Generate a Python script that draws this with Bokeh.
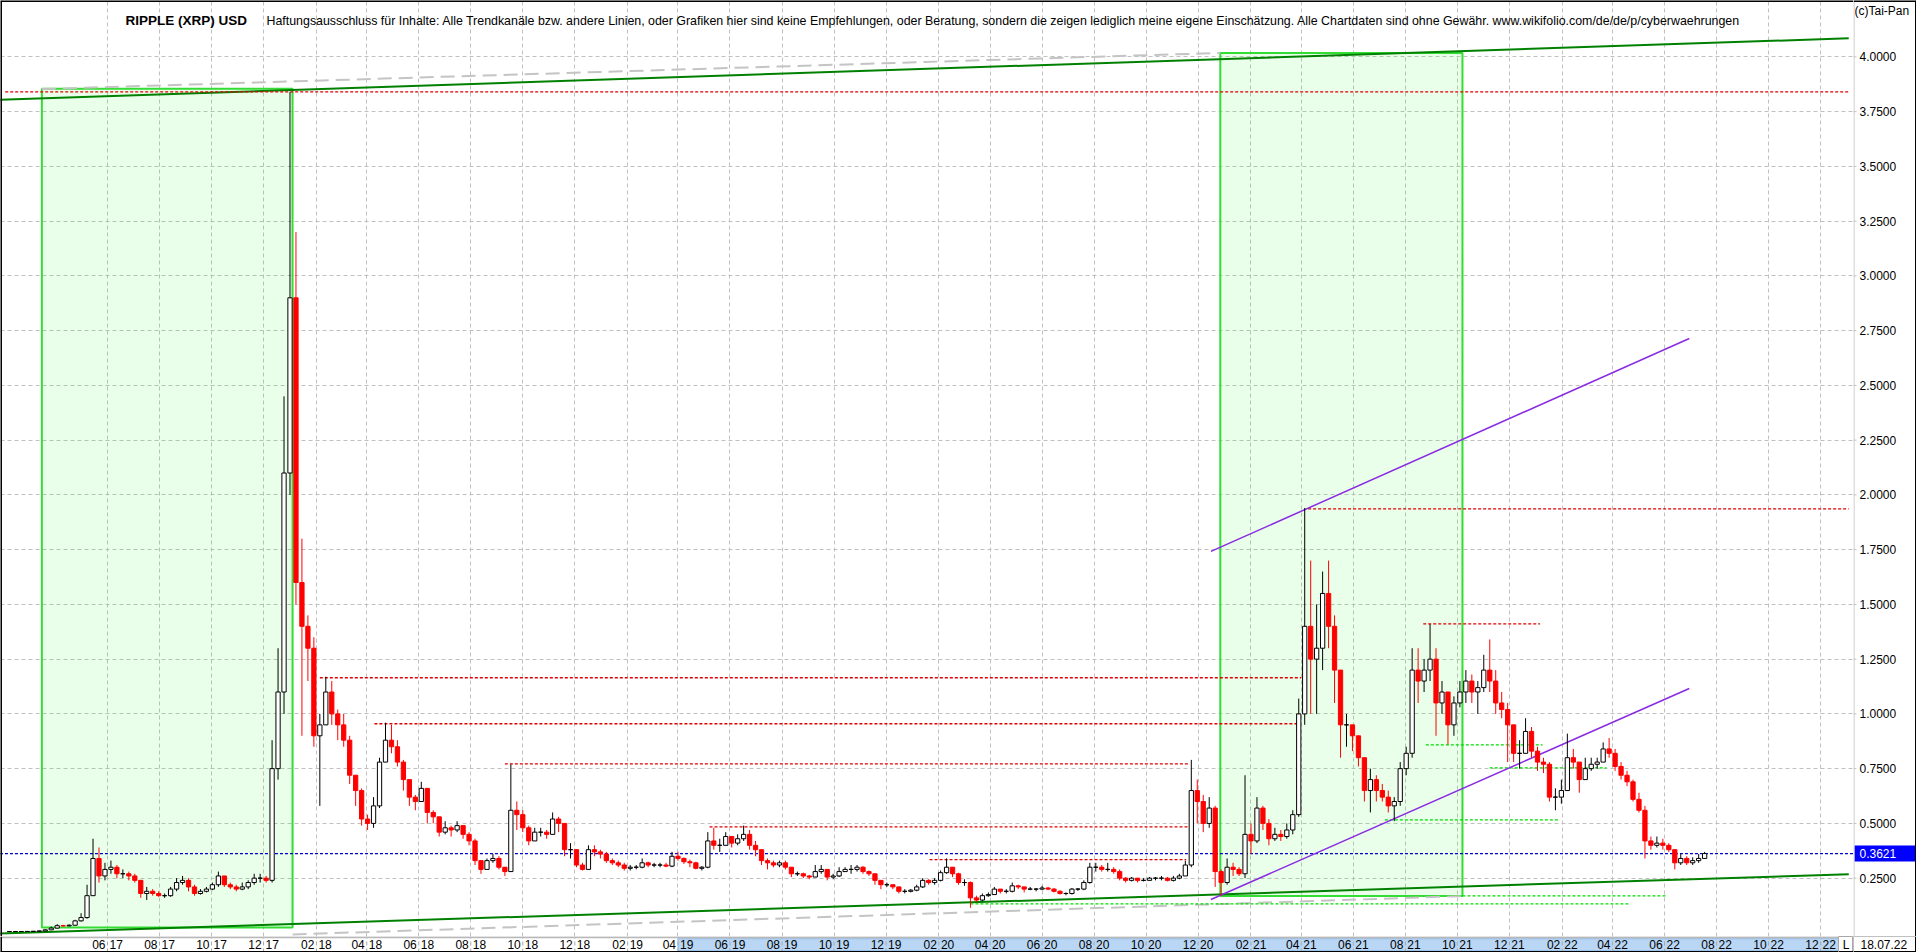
import pandas as pd
from datetime import timedelta
from bokeh.plotting import figure
from bokeh.models import ColumnDataSource, Range1d, FixedTicker, Label, Span, Grid
from bokeh.layouts import column, row
from bokeh.embed import file_html
from bokeh.resources import INLINE
from bokeh.core.properties import value

FONT = "Liberation Sans"

# ---------------- data (weekly candles) ----------------
WEEK_START = "2017-02-06"
FIRST_OPEN = 0.0062

close_2017 = [0.0063, 0.0064, 0.0065, 0.0068, 0.0075, 0.0090, 0.0140, 0.0220, 0.0330, 0.0320, 0.0350, 0.0550,
              0.0700, 0.1700, 0.3400, 0.2600, 0.2900, 0.3000, 0.2700, 0.2700, 0.2600, 0.2400, 0.1800, 0.1900,
              0.1800, 0.1700, 0.1700, 0.2000, 0.2300, 0.2400, 0.2100, 0.1800, 0.1900, 0.2000, 0.2200, 0.2600,
              0.2200, 0.2100, 0.2000, 0.2100, 0.2300, 0.2500, 0.2500, 0.2400, 0.7500, 1.1000, 2.1000]
high_2017 = [0.0066, 0.0067, 0.0068, 0.0072, 0.0080, 0.0100, 0.0160, 0.0290, 0.0400, 0.0370, 0.0390, 0.0600,
             0.0900, 0.2200, 0.4300, 0.3900, 0.3200, 0.3300, 0.3100, 0.2900, 0.2800, 0.2700, 0.2400, 0.2100,
             0.2000, 0.1900, 0.1800, 0.2100, 0.2500, 0.2600, 0.2500, 0.2200, 0.2000, 0.2100, 0.2300, 0.2800,
             0.2600, 0.2300, 0.2200, 0.2300, 0.2400, 0.2700, 0.2700, 0.2600, 0.8800, 1.3000, 2.4500]
low_2017 = [0.0060, 0.0061, 0.0062, 0.0063, 0.0067, 0.0074, 0.0088, 0.0135, 0.0210, 0.0290, 0.0300, 0.0340,
            0.0520, 0.0650, 0.1700, 0.2300, 0.2400, 0.2700, 0.2500, 0.2500, 0.2400, 0.2300, 0.1600, 0.1500,
            0.1700, 0.1650, 0.1600, 0.1650, 0.1900, 0.2200, 0.1900, 0.1700, 0.1750, 0.1850, 0.1950, 0.2100,
            0.2100, 0.2000, 0.1900, 0.1950, 0.2000, 0.2200, 0.2300, 0.2300, 0.2300, 0.7000, 1.0000]

close_2018 = [2.90, 1.60, 1.40, 1.30, 0.90, 0.95, 1.10, 1.00, 0.95, 0.88, 0.72, 0.65, 0.52, 0.50, 0.58, 0.78,
              0.88, 0.85, 0.78, 0.70, 0.62, 0.60, 0.66, 0.55, 0.53, 0.46, 0.48, 0.47, 0.49, 0.45, 0.42, 0.33,
              0.29, 0.33, 0.34, 0.30, 0.28, 0.56, 0.54, 0.48, 0.42, 0.46, 0.46, 0.45, 0.52, 0.50, 0.38, 0.38,
              0.31, 0.29, 0.38, 0.37, 0.36]
high_2018 = [3.84, 3.20, 1.80, 1.45, 1.35, 1.00, 1.17, 1.15, 1.02, 1.00, 0.90, 0.72, 0.66, 0.54, 0.62, 0.80,
             0.96, 0.95, 0.88, 0.79, 0.70, 0.63, 0.69, 0.66, 0.56, 0.53, 0.51, 0.49, 0.51, 0.49, 0.46, 0.43,
             0.33, 0.34, 0.36, 0.35, 0.30, 0.77, 0.60, 0.56, 0.49, 0.48, 0.48, 0.47, 0.55, 0.53, 0.50, 0.41,
             0.38, 0.32, 0.40, 0.40, 0.38]
low_2018 = [2.00, 1.50, 0.90, 1.15, 0.85, 0.58, 0.95, 0.95, 0.88, 0.85, 0.68, 0.58, 0.49, 0.47, 0.48, 0.57,
            0.78, 0.82, 0.76, 0.65, 0.58, 0.56, 0.60, 0.50, 0.50, 0.44, 0.45, 0.44, 0.46, 0.43, 0.40, 0.31,
            0.27, 0.29, 0.32, 0.29, 0.26, 0.28, 0.47, 0.46, 0.40, 0.42, 0.44, 0.43, 0.45, 0.46, 0.35, 0.34,
            0.30, 0.285, 0.29, 0.35, 0.34]

close_2019 = [0.330, 0.320, 0.310, 0.295, 0.300, 0.300, 0.320, 0.310, 0.310, 0.310, 0.305, 0.350, 0.340,
              0.325, 0.320, 0.295, 0.300, 0.420, 0.400, 0.400, 0.440, 0.410, 0.430, 0.450, 0.400, 0.380,
              0.330, 0.320, 0.310, 0.320, 0.300, 0.270, 0.270, 0.260, 0.255, 0.280, 0.290, 0.255, 0.260,
              0.280, 0.290, 0.290, 0.300, 0.280, 0.270, 0.240, 0.220, 0.220, 0.210, 0.190, 0.190, 0.195]
high_2019 = [0.370, 0.340, 0.330, 0.320, 0.310, 0.310, 0.340, 0.325, 0.320, 0.320, 0.320, 0.370, 0.370,
             0.345, 0.335, 0.325, 0.305, 0.460, 0.480, 0.430, 0.460, 0.440, 0.450, 0.490, 0.470, 0.420,
             0.380, 0.340, 0.330, 0.330, 0.330, 0.300, 0.280, 0.275, 0.265, 0.310, 0.310, 0.290, 0.270,
             0.300, 0.300, 0.310, 0.310, 0.305, 0.285, 0.270, 0.240, 0.230, 0.220, 0.210, 0.200, 0.200]
low_2019 = [0.320, 0.310, 0.300, 0.285, 0.285, 0.290, 0.295, 0.300, 0.300, 0.300, 0.300, 0.300, 0.330,
            0.315, 0.300, 0.290, 0.285, 0.295, 0.380, 0.370, 0.400, 0.390, 0.400, 0.420, 0.380, 0.350,
            0.310, 0.290, 0.300, 0.300, 0.290, 0.255, 0.260, 0.250, 0.245, 0.255, 0.270, 0.240, 0.245,
            0.255, 0.280, 0.270, 0.280, 0.270, 0.260, 0.220, 0.200, 0.210, 0.200, 0.180, 0.180, 0.185]

close_2020 = [0.210, 0.240, 0.230, 0.240, 0.275, 0.300, 0.270, 0.230, 0.230, 0.160, 0.150, 0.170, 0.175,
              0.200, 0.190, 0.190, 0.215, 0.210, 0.200, 0.200, 0.200, 0.205, 0.200, 0.190, 0.180, 0.180,
              0.200, 0.200, 0.230, 0.300, 0.300, 0.290, 0.290, 0.280, 0.250, 0.240, 0.250, 0.240, 0.240,
              0.250, 0.250, 0.250, 0.240, 0.250, 0.260, 0.310, 0.650, 0.600, 0.500, 0.570, 0.280, 0.230]
high_2020 = [0.220, 0.250, 0.245, 0.250, 0.285, 0.340, 0.300, 0.275, 0.245, 0.235, 0.170, 0.180, 0.185,
             0.210, 0.200, 0.200, 0.230, 0.220, 0.210, 0.210, 0.205, 0.215, 0.210, 0.205, 0.195, 0.185,
             0.205, 0.205, 0.240, 0.320, 0.320, 0.310, 0.320, 0.300, 0.290, 0.255, 0.255, 0.250, 0.250,
             0.255, 0.255, 0.260, 0.255, 0.260, 0.270, 0.330, 0.790, 0.700, 0.630, 0.620, 0.580, 0.290]
low_2020 = [0.190, 0.205, 0.220, 0.220, 0.235, 0.270, 0.255, 0.220, 0.215, 0.115, 0.140, 0.145, 0.165,
            0.175, 0.180, 0.180, 0.185, 0.200, 0.185, 0.195, 0.190, 0.195, 0.195, 0.185, 0.175, 0.172,
            0.175, 0.192, 0.195, 0.225, 0.280, 0.280, 0.280, 0.270, 0.240, 0.230, 0.235, 0.230, 0.235,
            0.240, 0.240, 0.240, 0.235, 0.235, 0.245, 0.260, 0.300, 0.500, 0.460, 0.480, 0.210, 0.170]

close_2021 = [0.300, 0.290, 0.270, 0.450, 0.420, 0.570, 0.500, 0.430, 0.450, 0.440, 0.470, 0.540, 1.000,
              1.400, 1.250, 1.300, 1.550, 1.400, 1.200, 0.950, 0.950, 0.900, 0.800, 0.650, 0.700, 0.650,
              0.620, 0.580, 0.600, 0.750, 0.820, 1.200, 1.150, 1.200, 1.250, 1.050, 1.100, 0.950, 1.050,
              1.100, 1.150, 1.100, 1.120, 1.200, 1.150, 1.050, 1.020, 0.950, 0.820, 0.820, 0.920, 0.830]
high_2021 = [0.340, 0.320, 0.300, 0.720, 0.500, 0.620, 0.580, 0.520, 0.480, 0.470, 0.500, 0.560, 1.070,
             1.940, 1.700, 1.500, 1.650, 1.700, 1.450, 1.200, 1.000, 0.950, 0.880, 0.800, 0.750, 0.720,
             0.680, 0.650, 0.620, 0.780, 0.850, 1.300, 1.300, 1.250, 1.410, 1.300, 1.150, 1.100, 1.080,
             1.150, 1.200, 1.180, 1.150, 1.270, 1.340, 1.200, 1.100, 1.050, 0.950, 0.880, 0.980, 0.940]
low_2021 = [0.220, 0.260, 0.260, 0.250, 0.360, 0.410, 0.470, 0.400, 0.420, 0.420, 0.430, 0.450, 0.530,
            0.950, 1.000, 1.000, 1.200, 1.300, 1.050, 0.800, 0.850, 0.830, 0.760, 0.600, 0.550, 0.600,
            0.600, 0.550, 0.510, 0.580, 0.720, 0.800, 1.050, 1.100, 1.150, 0.900, 1.000, 0.860, 0.900,
            1.030, 1.050, 1.050, 1.000, 1.100, 1.100, 1.000, 0.980, 0.780, 0.780, 0.750, 0.820, 0.800]

close_2022 = [0.780, 0.770, 0.620, 0.620, 0.650, 0.800, 0.780, 0.700, 0.750, 0.770, 0.780, 0.840, 0.820,
              0.760, 0.720, 0.690, 0.610, 0.560, 0.420, 0.400, 0.410, 0.400, 0.380, 0.320, 0.340, 0.320,
              0.330, 0.340, 0.3621]
high_2022 = [0.850, 0.800, 0.780, 0.660, 0.700, 0.910, 0.840, 0.780, 0.800, 0.800, 0.800, 0.870, 0.890,
             0.840, 0.780, 0.740, 0.700, 0.640, 0.580, 0.440, 0.440, 0.430, 0.410, 0.380, 0.360, 0.350,
             0.345, 0.360, 0.370]
low_2022 = [0.740, 0.730, 0.600, 0.560, 0.590, 0.650, 0.750, 0.640, 0.700, 0.740, 0.750, 0.780, 0.800,
            0.740, 0.700, 0.670, 0.600, 0.550, 0.340, 0.380, 0.390, 0.380, 0.370, 0.290, 0.310, 0.310,
            0.310, 0.320, 0.340]

LAST_PRICE = 0.3621

# y axis ticks and x axis (2-monthly) ticks
Y_TICKS = [0.25, 0.5, 0.75, 1.0, 1.25, 1.5, 1.75, 2.0, 2.25, 2.5, 2.75, 3.0, 3.25, 3.5, 3.75, 4.0]
TICK_DATES = ["2017-06-01", "2017-08-01", "2017-10-01", "2017-12-01",
              "2018-02-01", "2018-04-01", "2018-06-01", "2018-08-01", "2018-10-01", "2018-12-01",
              "2019-02-01", "2019-04-01", "2019-06-01", "2019-08-01", "2019-10-01", "2019-12-01",
              "2020-02-01", "2020-04-01", "2020-06-01", "2020-08-01", "2020-10-01", "2020-12-01",
              "2021-02-01", "2021-04-01", "2021-06-01", "2021-08-01", "2021-10-01", "2021-12-01",
              "2022-02-01", "2022-04-01", "2022-06-01", "2022-08-01", "2022-10-01", "2022-12-01"]
HIGHLIGHT_RANGE = ["2019-04-01", "2023-01-31"]

# drawing objects (dates / price levels)
RECT_LEFT = ["2017-03-16", "2020-12-27"]
RECT_RIGHT = ["2018-01-04", "2021-10-07"]
RECT_BOTTOM = [0.025, 0.168]
RECT_TOP = [3.855, 4.018]

TREND_X0 = ["2017-01-20", "2017-01-20"]
TREND_Y0 = [3.804, -0.003]
TREND_X1 = ["2023-01-03", "2023-01-03"]
TREND_Y1 = [4.085, 0.268]

GREY_X0 = ["2017-03-16", "2018-01-04"]
GREY_Y0 = [3.853, -0.007]
GREY_X1 = ["2020-12-27", "2021-10-07"]
GREY_Y1 = [4.018, 0.168]

RED_LEVEL = [3.84, 1.936, 1.165, 0.955, 0.772, 0.484, 0.335, 1.411]
RED_START = ["2017-02-01", "2021-04-09", "2018-02-05", "2018-04-10", "2018-09-10", "2019-05-08",
             "2020-01-21", "2021-08-22"]
RED_END = ["2023-01-03", "2023-01-03", "2021-04-01", "2021-03-28", "2020-11-19", "2020-11-19",
           "2020-11-17", "2022-01-06"]

GRN_LEVEL = [0.859, 0.754, 0.516, 0.169, 0.133]
GRN_START = ["2021-08-25", "2021-11-08", "2021-07-08", "2021-10-07", "2020-03-09"]
GRN_END = ["2022-01-09", "2022-03-25", "2022-01-28", "2022-06-04", "2022-04-22"]

BLUE_START = "2017-01-20"
BLUE_END = "2023-01-20"

PURPLE_X0 = ["2020-12-16", "2020-12-16"]
PURPLE_Y0 = [0.1525, 1.742]
PURPLE_X1 = ["2022-06-30", "2022-06-30"]
PURPLE_Y1 = [1.116, 2.714]

TITLE = "RIPPLE (XRP) USD"
DISCLAIMER = ("Haftungsausschluss für Inhalte: Alle Trendkanäle bzw. andere Linien, oder Grafiken hier sind "
              "keine Empfehlungen, oder Beratung, sondern die zeigen lediglich meine eigene Einschätzung. "
              "Alle Chartdaten sind ohne Gewähr.  www.wikifolio.com/de/de/p/cyberwaehrungen")
COPYRIGHT = "(c)Tai-Pan"

# ---------------- build candles ----------------
closes = close_2017 + close_2018 + close_2019 + close_2020 + close_2021 + close_2022
highs = high_2017 + high_2018 + high_2019 + high_2020 + high_2021 + high_2022
lows = low_2017 + low_2018 + low_2019 + low_2020 + low_2021 + low_2022
opens = [FIRST_OPEN] + closes[:-1]
dates = pd.date_range(WEEK_START, periods=len(closes), freq="7D")

up = dict(x=[], top=[], bottom=[], high=[], low=[])
dn = dict(x=[], top=[], bottom=[], high=[], low=[])
for d, o, h, l, c in zip(dates, opens, highs, lows, closes):
    tgt = up if c >= o else dn
    tgt["x"].append(d)
    tgt["top"].append(max(o, c))
    tgt["bottom"].append(min(o, c))
    tgt["high"].append(max(h, o, c))
    tgt["low"].append(min(l, o, c))
up_src = ColumnDataSource(up)
dn_src = ColumnDataSource(dn)

# ---------------- layout sizes ----------------
MAIN_W, MAIN_H = 1853, 936
AXIS_W = 63
STRIP_H = 16
L_W = 15
X0 = pd.Timestamp("2017-01-26 12:00")
X1 = pd.Timestamp("2023-01-08 14:00")
yr = Range1d(-0.0164, 4.2575)

p = figure(width=MAIN_W, height=MAIN_H, x_axis_type="datetime", x_axis_location=None,
           y_axis_location=None, x_range=Range1d(X0, X1), y_range=yr,
           output_backend="svg", toolbar_location=None, min_border=0,
           min_border_left=0, min_border_top=0, min_border_bottom=0, min_border_right=0)
p.outline_line_color = None
p.background_fill_color = "white"
p.border_fill_color = "white"
p.grid.visible = False

tick_ms = [pd.Timestamp(t).value // 10**6 for t in TICK_DATES]
p.add_layout(Grid(dimension=0, ticker=FixedTicker(ticks=tick_ms), grid_line_color="#c0c0c0",
                  grid_line_dash="4 3", grid_line_width=1))
p.add_layout(Grid(dimension=1, ticker=FixedTicker(ticks=Y_TICKS), grid_line_color="#c0c0c0",
                  grid_line_dash="4 3", grid_line_width=1))

# rectangles
p.quad(left=pd.to_datetime(RECT_LEFT), right=pd.to_datetime(RECT_RIGHT), bottom=RECT_BOTTOM, top=RECT_TOP,
       fill_color="#33ff33", fill_alpha=0.1, line_color="#33dd33", line_width=2)
# grey dashed channel
p.segment(x0=pd.to_datetime(GREY_X0), y0=GREY_Y0, x1=pd.to_datetime(GREY_X1), y1=GREY_Y1,
          line_color="#c4c4c4", line_width=2, line_dash="14 7")
# green trend lines
p.segment(x0=pd.to_datetime(TREND_X0), y0=TREND_Y0, x1=pd.to_datetime(TREND_X1), y1=TREND_Y1,
          line_color="#008000", line_width=2)
# horizontal dotted levels
p.segment(x0=pd.to_datetime(RED_START), y0=RED_LEVEL, x1=pd.to_datetime(RED_END), y1=RED_LEVEL,
          line_color="#e00000", line_width=1.3, line_dash="3 2")
p.segment(x0=pd.to_datetime(GRN_START), y0=GRN_LEVEL, x1=pd.to_datetime(GRN_END), y1=GRN_LEVEL,
          line_color="#00dd00", line_width=1.3, line_dash="3 2")
p.segment(x0=[pd.Timestamp(BLUE_START)], y0=[LAST_PRICE], x1=[pd.Timestamp(BLUE_END)], y1=[LAST_PRICE],
          line_color="#0000cc", line_width=1.3, line_dash="3 2")
# purple channel
p.segment(x0=pd.to_datetime(PURPLE_X0), y0=PURPLE_Y0, x1=pd.to_datetime(PURPLE_X1), y1=PURPLE_Y1,
          line_color="#8a2be2", line_width=1.5)

# candles
CW = 5 * 24 * 3600 * 1000
p.segment(x0="x", y0="low", x1="x", y1="high", source=up_src, line_color="black", line_width=1)
p.segment(x0="x", y0="low", x1="x", y1="high", source=dn_src, line_color="#ff0000", line_width=1)
p.vbar(x="x", width=CW, top="top", bottom="bottom", source=up_src, fill_color="white",
       line_color="black", line_width=1)
p.vbar(x="x", width=CW, top="top", bottom="bottom", source=dn_src, fill_color="#ff0000",
       line_color="#ff0000", line_width=1)

# window border (left / top)
p.add_layout(Span(location=X0 + timedelta(hours=14), dimension="height", line_color="black", line_width=2))
p.add_layout(Span(location=4.2555, dimension="width", line_color="black", line_width=2))

# header texts (inside frame)
p.add_layout(Label(x=125, y=MAIN_H - 20, x_units="screen", y_units="screen", text=TITLE, text_font=FONT,
                   text_font_size="13.5px", text_font_style="bold", text_baseline="middle",
                   text_color="black"))
p.add_layout(Label(x=266, y=MAIN_H - 20, x_units="screen", y_units="screen", text=DISCLAIMER,
                   text_font=FONT, text_font_size="12.4px", text_baseline="middle", text_color="black"))

# ---------------- right price scale ----------------
r = figure(width=AXIS_W, height=MAIN_H, x_range=Range1d(0, AXIS_W), y_range=yr,
           x_axis_location=None, y_axis_location=None, output_backend="svg", toolbar_location=None,
           min_border=0, min_border_left=0, min_border_right=0, min_border_top=0, min_border_bottom=0)
r.outline_line_color = None
r.grid.visible = False
r.add_layout(Span(location=0.5, dimension="height", line_color="#c0c0c0", line_width=1))
r.segment(x0=[0] * len(Y_TICKS), y0=Y_TICKS, x1=[3] * len(Y_TICKS), y1=Y_TICKS, line_color="#c0c0c0")
r.text(x=[6] * len(Y_TICKS), y=Y_TICKS, text=[f"{v:.4f}" for v in Y_TICKS], text_baseline="middle",
       text_align="left", text_font=value(FONT), text_font_size="12px", text_color="black")
r.rect(x=[AXIS_W / 2 + 0.5], y=[LAST_PRICE], width=[AXIS_W - 1], height=[16], height_units="screen",
       fill_color="#0000ff", line_color=None)
r.text(x=[6], y=[LAST_PRICE], text=[f"{LAST_PRICE:.4f}"], text_baseline="middle", text_align="left",
       text_font=value(FONT), text_font_size="12px", text_color="white")
r.text(x=[1], y=[yr.end], y_offset=3, text=[COPYRIGHT], text_baseline="top", text_align="left",
       text_font=value(FONT), text_font_size="12px", text_color="black")
r.add_layout(Span(location=AXIS_W - 0.5, dimension="height", line_color="black", line_width=2))
r.add_layout(Span(location=yr.end - 0.002, dimension="width", line_color="black", line_width=2))

# ---------------- bottom date strip ----------------
SD_W = MAIN_W - L_W
sd_end = X0 + (X1 - X0) * (SD_W / MAIN_W)
sd = figure(width=SD_W, height=STRIP_H, x_axis_type="datetime", x_axis_location=None, y_axis_location=None,
            x_range=Range1d(X0, sd_end), y_range=Range1d(0, 1), output_backend="svg",
            toolbar_location=None, min_border=0, min_border_left=0, min_border_right=0,
            min_border_top=0, min_border_bottom=0)
sd.outline_line_color = None
sd.grid.visible = False
sd.quad(left=[pd.Timestamp(HIGHLIGHT_RANGE[0])], right=[pd.Timestamp(HIGHLIGHT_RANGE[1])],
        bottom=[0.1], top=[0.86], fill_color="#b9d7f5", line_color="#8cb6e3", line_width=1)
tick_dt = pd.to_datetime(TICK_DATES)
sd.segment(x0=tick_dt, y0=[0] * len(tick_dt), x1=tick_dt, y1=[1] * len(tick_dt),
           line_color="#a8a8a8", line_dash="4 3")
sd.text(x=tick_dt, y=[0.5] * len(tick_dt), text=[t[5:7] for t in TICK_DATES], x_offset=-2,
        text_align="right", text_baseline="middle", text_font=value(FONT), text_font_size="12px",
        text_color="black")
sd.text(x=tick_dt, y=[0.5] * len(tick_dt), text=[t[2:4] for t in TICK_DATES], x_offset=2,
        text_align="left", text_baseline="middle", text_font=value(FONT), text_font_size="12px",
        text_color="black")
sd.add_layout(Span(location=0.95, dimension="width", line_color="#b8b8b8", line_width=2))
sd.add_layout(Span(location=0.03, dimension="width", line_color="black", line_width=2))
sd.add_layout(Span(location=X0 + timedelta(hours=14), dimension="height", line_color="black", line_width=2))

sl = figure(width=L_W, height=STRIP_H, x_range=Range1d(0, 1), y_range=Range1d(0, 1),
            x_axis_location=None, y_axis_location=None, output_backend="svg", toolbar_location=None,
            min_border=0, min_border_left=0, min_border_right=0, min_border_top=0, min_border_bottom=0)
sl.grid.visible = False
sl.outline_line_color = "#a8a8a8"
sl.text(x=[0.5], y=[0.5], text=["L"], text_align="center", text_baseline="middle",
        text_font=value(FONT), text_font_size="12px", text_color="black")
sl.add_layout(Span(location=0.03, dimension="width", line_color="black", line_width=2))

sr = figure(width=AXIS_W, height=STRIP_H, x_range=Range1d(0, AXIS_W), y_range=Range1d(0, 1),
            x_axis_location=None, y_axis_location=None, output_backend="svg", toolbar_location=None,
            min_border=0, min_border_left=0, min_border_right=0, min_border_top=0, min_border_bottom=0)
sr.grid.visible = False
sr.outline_line_color = "#c0c0c0"
sr.text(x=[7], y=[0.5], text=[dates[-1].strftime("%d.%m.%y")], text_align="left",
        text_baseline="middle", text_font=value(FONT), text_font_size="12px", text_color="black")
sr.add_layout(Span(location=0.03, dimension="width", line_color="black", line_width=2))
sr.add_layout(Span(location=AXIS_W - 0.5, dimension="height", line_color="black", line_width=2))

layout = column(row(p, r), row(sd, sl, sr))
with open("out.html", "w", encoding="utf-8") as f:
    f.write(file_html(layout, INLINE))
